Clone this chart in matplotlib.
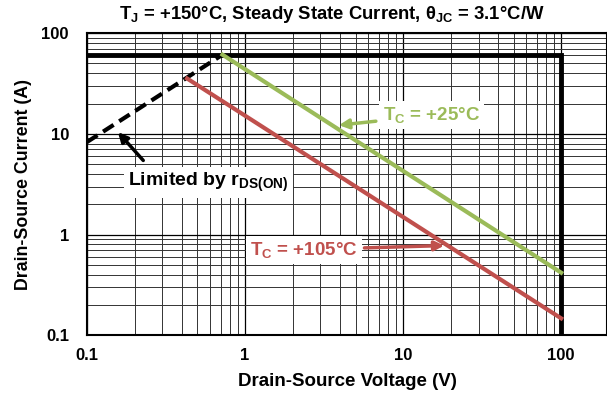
import matplotlib
matplotlib.use('Agg')
import matplotlib.pyplot as plt

plt.rcParams['font.family'] = ['Liberation Sans', 'DejaVu Sans']
plt.rcParams['font.weight'] = 'bold'
plt.rcParams['mathtext.fontset'] = 'custom'
plt.rcParams['mathtext.rm'] = 'Liberation Sans:bold'
plt.rcParams['mathtext.it'] = 'Liberation Sans:bold'
plt.rcParams['mathtext.bf'] = 'Liberation Sans:bold'

# data
vds_rds = [0.1, 0.72]
ids_rds = [8.3, 61]
vds_25 = [0.72, 100]
ids_25 = [61, 0.42]
vds_105 = [0.43, 100]
ids_105 = [35.4, 0.148]
limit_v = [0.1, 100, 100]
limit_i = [61, 61, 0.1]

green = '#9BBB59'
red = '#C0504D'

fig = plt.figure(figsize=(6.07, 4.03), dpi=100)
ax = fig.add_axes([0.1433, 0.1675, 0.8567, 0.7505])
ax.set_xscale('log')
ax.set_yscale('log')
ax.set_xlim(0.1, 195)
ax.set_ylim(0.1, 100)

ax.grid(True, which='major', color='black', lw=0.9)
ax.grid(True, which='minor', color='#333333', lw=0.7)
ax.tick_params(which='both', length=0, labelsize=12)
ax.tick_params(axis='x', pad=9)
ax.tick_params(axis='y', pad=13)
ax.set_xticks([0.1, 1, 10, 100])
ax.set_xticklabels(['0.1', '1', '10', '100'])
ax.set_yticks([0.1, 1, 10, 100])
ax.set_yticklabels(['0.1', '1', '10', '100'])
for s in ax.spines.values():
    s.set_linewidth(1.5)

ax.plot(limit_v, limit_i, color='black', lw=3.5, solid_joinstyle='miter', zorder=4)
ax.plot(vds_rds, ids_rds, color='black', lw=3, ls=(0, (3, 1.6)), zorder=4)
ax.plot(vds_25, ids_25, color=green, lw=3, zorder=4)
ax.plot(vds_105, ids_105, color=red, lw=3, zorder=4)

box = dict(fc='white', ec='none', pad=3)
ax.annotate(r'$\mathrm{T_C}$ = +25°C', xy=(3.93, 12.2), xytext=(15.1, 15.3),
            color=green, fontsize=13.5, fontweight='bold', ha='center', va='center',
            bbox=box, zorder=5,
            arrowprops=dict(arrowstyle='-|>', color=green, lw=2.5, shrinkA=2, shrinkB=0,
                            mutation_scale=14))
ax.annotate(r'$\mathrm{T_C}$ = +105°C', xy=(18.2, 0.78), xytext=(2.35, 0.71),
            color=red, fontsize=13.5, fontweight='bold', ha='center', va='center',
            bbox=box, zorder=5,
            arrowprops=dict(arrowstyle='-|>', color=red, lw=2.5, shrinkA=2, shrinkB=0,
                            mutation_scale=14))
ax.annotate('', xy=(0.157, 10.4), xytext=(0.227, 5.45),
            arrowprops=dict(arrowstyle='-|>', color='black', lw=2.5, shrinkA=0, shrinkB=0,
                            mutation_scale=14), zorder=5)
ax.text(0.586, 3.3, r'Limited by $\mathrm{r_{DS(ON)}}$', fontsize=14, fontweight='bold',
        ha='center', va='center', bbox=box, zorder=5)

ax.text(0.471, 1.025, r'$\mathrm{T_J}$ = +150°C, Steady State Current, $\mathrm{θ_{JC}}$ = 3.1°C/W',
        transform=ax.transAxes, fontsize=13.3, fontweight='bold', ha='center', va='bottom')
ax.set_xlabel('Drain-Source Voltage (V)', fontsize=13.5, fontweight='bold', labelpad=7)
ax.set_ylabel('Drain-Source Current (A)', fontsize=12.8, fontweight='bold', labelpad=7)

fig.savefig('out.png', dpi=100)
